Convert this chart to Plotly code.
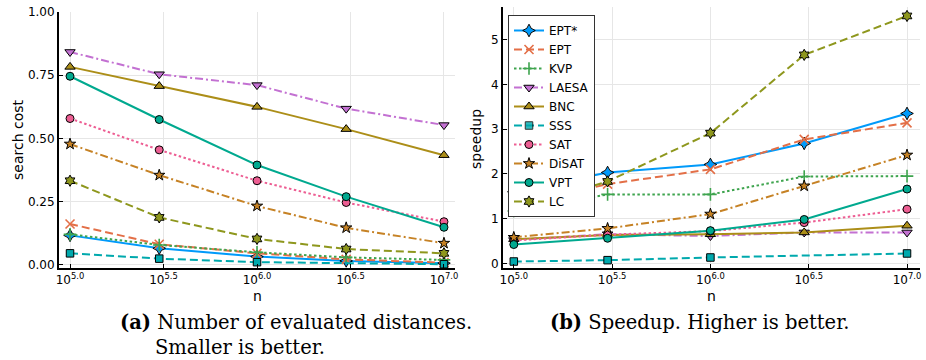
import plotly.graph_objects as go

# ---------------- data ----------------
log_n = [5.0, 5.477, 6.0, 6.477, 7.0]
tick_vals = [5.0, 5.5, 6.0, 6.5, 7.0]
tick_text = ["10<sup>5.0</sup>", "10<sup>5.5</sup>", "10<sup>6.0</sup>", "10<sup>6.5</sup>", "10<sup>7.0</sup>"]
methods = ["EPT*", "EPT", "KVP", "LAESA", "BNC", "SSS", "SAT", "DiSAT", "VPT", "LC"]

# (a) search cost
cost_ept_star = [0.117, 0.066, 0.033, 0.016, 0.007]
cost_ept = [0.162, 0.082, 0.046, 0.022, 0.009]
cost_kvp = [0.121, 0.079, 0.050, 0.030, 0.020]
cost_laesa = [0.842, 0.754, 0.711, 0.618, 0.553]
cost_bnc = [0.783, 0.707, 0.625, 0.537, 0.434]
cost_sss = [0.046, 0.025, 0.011, 0.007, 0.003]
cost_sat = [0.579, 0.455, 0.333, 0.247, 0.171]
cost_disat = [0.478, 0.355, 0.233, 0.147, 0.086]
cost_vpt = [0.746, 0.575, 0.395, 0.270, 0.149]
cost_lc = [0.333, 0.188, 0.103, 0.063, 0.046]

# (b) speedup
speed_ept_star = [1.60, 2.03, 2.21, 2.68, 3.35]
speed_ept = [1.29, 1.77, 2.10, 2.77, 3.14]
speed_kvp = [1.17, 1.54, 1.54, 1.94, 1.95]
speed_laesa = [0.52, 0.65, 0.61, 0.69, 0.69]
speed_bnc = [0.54, 0.63, 0.65, 0.69, 0.84]
speed_sss = [0.04, 0.07, 0.13, 0.17, 0.22]
speed_sat = [0.51, 0.64, 0.72, 0.91, 1.21]
speed_disat = [0.58, 0.78, 1.10, 1.73, 2.42]
speed_vpt = [0.42, 0.56, 0.73, 0.98, 1.66]
speed_lc = [1.19, 1.83, 2.91, 4.66, 5.53]

cost = [cost_ept_star, cost_ept, cost_kvp, cost_laesa, cost_bnc,
        cost_sss, cost_sat, cost_disat, cost_vpt, cost_lc]
speed = [speed_ept_star, speed_ept, speed_kvp, speed_laesa, speed_bnc,
         speed_sss, speed_sat, speed_disat, speed_vpt, speed_lc]

# ---------------- styles ----------------
colors = ["#009AFA", "#E36F47", "#3EA44E", "#C371D2", "#AC8E18",
          "#00A9AD", "#ED5E93", "#C68225", "#00A98F", "#8E971D"]
DASH = "8px,4px"
DOT = "2.5px,2.5px"
DASHDOT = "8px,3px,2px,3px"
dashes = ["solid", DASH, DOT, DASHDOT, "solid", DASH, DOT, DASHDOT, "solid", DASH]
symbols = ["star-diamond", "x-thin", "cross-thin", "triangle-down", "triangle-up",
           "square", "circle", "star", "circle", "hexagram"]
sizes = [9, 9, 9, 9, 9, 7.5, 8, 8.5, 8, 8.5]

FONT = "DejaVu Sans"
fig = go.Figure()

for panel, (data, xa, ya) in enumerate([(cost, "x", "y"), (speed, "x2", "y2")]):
    for i, name in enumerate(methods):
        thin = symbols[i].endswith("-thin")
        opac = [1, 1, 1, 0, 1] if name == "SSS" else 1
        marker = dict(symbol=symbols[i], size=sizes[i], color=colors[i], opacity=opac,
                      line=dict(color=colors[i] if thin else "black", width=1.6 if thin else 1))
        fig.add_trace(go.Scatter(
            x=log_n, y=data[i], name=name, mode="lines+markers",
            line=dict(color=colors[i], width=2, dash=dashes[i]),
            marker=marker, xaxis=xa, yaxis=ya,
            showlegend=(panel == 1), legendgroup=name,
        ))

W, H = 926, 360
def px_x(p):
    return p / W
def px_y(p):
    return 1 - p / H

axis_common = dict(
    showline=True, linecolor="black", linewidth=2, mirror=False,
    showgrid=True, gridcolor="#e6e6e6", gridwidth=1,
    ticks="inside", ticklen=4, tickcolor="black", tickwidth=1,
    zeroline=False, automargin=False,
    tickfont=dict(family=FONT, size=12, color="black"),
)

fig.update_layout(
    width=W, height=H, margin=dict(l=0, r=0, t=0, b=0, pad=0),
    paper_bgcolor="white", plot_bgcolor="white",
    font=dict(family=FONT, color="black"),
    xaxis=dict(domain=[px_x(59), px_x(455)], range=[4.941, 7.059],
               tickvals=tick_vals, ticktext=tick_text, anchor="y", **axis_common),
    yaxis=dict(domain=[px_y(268), px_y(12)], range=[-0.012, 1.0],
               tickvals=[0, 0.25, 0.5, 0.75, 1.0], tickformat=".2f", anchor="x", **axis_common),
    xaxis2=dict(domain=[px_x(503), px_x(920)], range=[4.945, 7.066],
                tickvals=tick_vals, ticktext=tick_text, anchor="y2", **axis_common),
    yaxis2=dict(domain=[px_y(268), px_y(7)], range=[-0.105, 5.73],
                tickvals=[0, 1, 2, 3, 4, 5], anchor="x2", **axis_common),
    legend=dict(x=px_x(508), y=px_y(15), xanchor="left", yanchor="top",
                bgcolor="white", bordercolor="#333333", borderwidth=1,
                font=dict(family=FONT, size=12, color="black"),
                tracegroupgap=0, itemwidth=30),
)

ann = [
    dict(text="search cost", x=px_x(18), y=px_y(140), textangle=-90, font=dict(size=14)),
    dict(text="speedup", x=px_x(476), y=px_y(139), textangle=-90, font=dict(size=14)),
    dict(text="n", x=px_x(257), y=px_y(296), font=dict(size=14)),
    dict(text="n", x=px_x(711), y=px_y(296), font=dict(size=14)),
]
for a in ann:
    a.update(xref="paper", yref="paper", showarrow=False, xanchor="center", yanchor="middle")
    a["font"].update(family=FONT, color="black")
    fig.add_annotation(**a)

SERIF = "DejaVu Serif"
caps = [
    dict(text="<b>(a)</b> Number of evaluated distances.", x=px_x(118), y=px_y(322)),
    dict(text="Smaller is better.", x=px_x(153), y=px_y(347)),
    dict(text="<b>(b)</b> Speedup. Higher is better.", x=px_x(548), y=px_y(322)),
]
for c in caps:
    fig.add_annotation(xref="paper", yref="paper", showarrow=False, xanchor="left",
                       yanchor="middle", font=dict(family=SERIF, size=19.5, color="black"), **c)

fig.write_html("out.html", config={"displayModeBar": False},
               post_script="document.body.style.margin='0';document.body.style.overflow='hidden';")
